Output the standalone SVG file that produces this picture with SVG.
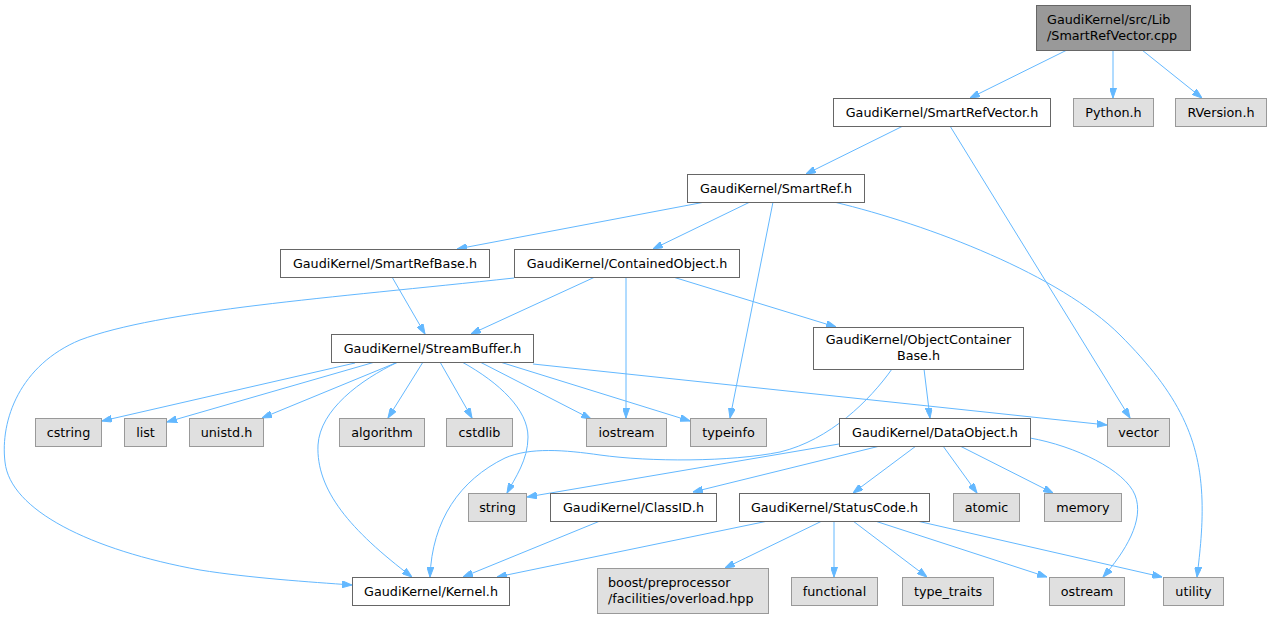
<svg xmlns="http://www.w3.org/2000/svg" width="1272" height="619" viewBox="0 0 1272 619">
<defs>
<marker id="ah" viewBox="0 0 10 7" refX="10" refY="3.5" markerWidth="10" markerHeight="7" markerUnits="userSpaceOnUse" orient="auto">
<path d="M0,0 L10,3.5 L0,7 z" fill="#63b8ff" stroke="#63b8ff" stroke-width="1"/>
</marker>
<style>
.e{fill:none;stroke:#63b8ff;stroke-width:1;marker-end:url(#ah)}
.w{fill:#ffffff;stroke:#666666;stroke-width:1}
.g{fill:#e0e0e0;stroke:#999999;stroke-width:1}
.r{fill:#999999;stroke:#666666;stroke-width:1}
text{font-family:"DejaVu Sans","Liberation Sans",sans-serif;font-size:12.75px;fill:#000000}
.c{text-anchor:middle}
</style>
</defs>
<rect width="1272" height="619" fill="#ffffff"/>
<g id="connectors">
<path class="e" d="M1067,50 L970,98"/>
<path class="e" d="M1113,50 L1113,98"/>
<path class="e" d="M1142,50 L1202,98"/>
<path class="e" d="M903,126 L806,174"/>
<path class="e" d="M950,126 L1130,418"/>
<path class="e" d="M705,202 L457,249"/>
<path class="e" d="M750,202 L653,249"/>
<path class="e" d="M773,202 L730,418"/>
<path class="e" d="M834,202 C930,225 1060,275 1120,335 C1180,395 1200,440 1202,500 C1203,530 1199,560 1197,577"/>
<path class="e" d="M595,277 L471,334"/>
<path class="e" d="M392,277 L425,334"/>
<path class="e" d="M626,277 L626,418"/>
<path class="e" d="M673,277 L836,327"/>
<path class="e" d="M514,278 C330,298 160,310 80,340 C20,365 0,420 5,462 C10,510 90,550 200,570 C250,578 310,582 352,585"/>
<path class="e" d="M355,363 L102,421"/>
<path class="e" d="M375,362 L167,422"/>
<path class="e" d="M398,362 L262,418"/>
<path class="e" d="M423,362 L388,418"/>
<path class="e" d="M440,362 L472,418"/>
<path class="e" d="M480,362 L591,419"/>
<path class="e" d="M500,362 L690,421"/>
<path class="e" d="M533,364 L1107,425"/>
<path class="e" d="M462,362 C500,383 528,410 528,437 C528,460 515,478 507,493"/>
<path class="e" d="M398,362 C360,380 320,410 318,445 C316,490 350,530 412,577"/>
<path class="e" d="M892,369 C870,400 830,440 780,452 C730,462 650,462 600,455 C565,450 530,447 505,458 C460,480 432,520 430,577"/>
<path class="e" d="M924,369 L930,418"/>
<path class="e" d="M839,444 L527,497"/>
<path class="e" d="M880,446 L693,492"/>
<path class="e" d="M916,446 L853,493"/>
<path class="e" d="M943,446 L977,493"/>
<path class="e" d="M960,446 L1053,493"/>
<path class="e" d="M1030,438 C1075,446 1125,470 1135,495 C1145,520 1125,552 1103,577"/>
<path class="e" d="M600,521 L463,577"/>
<path class="e" d="M768,521 L497,577"/>
<path class="e" d="M822,521 L725,568"/>
<path class="e" d="M834,521 L834,577"/>
<path class="e" d="M853,521 L927,577"/>
<path class="e" d="M875,521 L1047,577"/>
<path class="e" d="M917,521 L1162,577"/>
</g>
<g id="n0"><rect class="r" x="1036.5" y="5.5" width="154" height="45"/><text x="1047" y="24">GaudiKernel/src/Lib</text><text x="1047" y="40">/SmartRefVector.cpp</text></g>
<g id="n1"><rect class="w" x="833.5" y="98.5" width="217" height="28"/><text class="c" x="942" y="117">GaudiKernel/SmartRefVector.h</text></g>
<g id="n2"><rect class="g" x="1073.5" y="98.5" width="80" height="28"/><text class="c" x="1113.5" y="117">Python.h</text></g>
<g id="n3"><rect class="g" x="1175.5" y="98.5" width="91" height="28"/><text class="c" x="1221" y="117">RVersion.h</text></g>
<g id="n4"><rect class="w" x="687.5" y="174.5" width="177" height="28"/><text class="c" x="776" y="193">GaudiKernel/SmartRef.h</text></g>
<g id="n5"><rect class="w" x="280.5" y="249.5" width="209" height="28"/><text class="c" x="385" y="268">GaudiKernel/SmartRefBase.h</text></g>
<g id="n6"><rect class="w" x="514.5" y="249.5" width="225" height="28"/><text class="c" x="627" y="268">GaudiKernel/ContainedObject.h</text></g>
<g id="n7"><rect class="w" x="331.5" y="334.5" width="202" height="28"/><text class="c" x="432.5" y="353">GaudiKernel/StreamBuffer.h</text></g>
<g id="n8"><rect class="w" x="813.5" y="327.5" width="210" height="42"/><text class="c" x="918.5" y="344">GaudiKernel/ObjectContainer</text><text class="c" x="918.5" y="360">Base.h</text></g>
<g id="n9"><rect class="g" x="35.5" y="418.5" width="66" height="28"/><text class="c" x="68.5" y="437">cstring</text></g>
<g id="n10"><rect class="g" x="124.5" y="418.5" width="42" height="28"/><text class="c" x="145.5" y="437">list</text></g>
<g id="n11"><rect class="g" x="189.5" y="418.5" width="74" height="28"/><text class="c" x="226.5" y="437">unistd.h</text></g>
<g id="n12"><rect class="g" x="339.5" y="418.5" width="85" height="28"/><text class="c" x="382" y="437">algorithm</text></g>
<g id="n13"><rect class="g" x="446.5" y="418.5" width="66" height="28"/><text class="c" x="479.5" y="437">cstdlib</text></g>
<g id="n14"><rect class="g" x="586.5" y="418.5" width="80" height="28"/><text class="c" x="626.5" y="437">iostream</text></g>
<g id="n15"><rect class="g" x="690.5" y="418.5" width="76" height="28"/><text class="c" x="728.5" y="437">typeinfo</text></g>
<g id="n16"><rect class="w" x="839.5" y="418.5" width="191" height="28"/><text class="c" x="935" y="437">GaudiKernel/DataObject.h</text></g>
<g id="n17"><rect class="g" x="1107.5" y="418.5" width="62" height="28"/><text class="c" x="1138.5" y="437">vector</text></g>
<g id="n18"><rect class="g" x="468.5" y="493.5" width="58" height="28"/><text class="c" x="497.5" y="512">string</text></g>
<g id="n19"><rect class="w" x="550.5" y="493.5" width="166" height="28"/><text class="c" x="633.5" y="512">GaudiKernel/ClassID.h</text></g>
<g id="n20"><rect class="w" x="739.5" y="493.5" width="190" height="28"/><text class="c" x="834.5" y="512">GaudiKernel/StatusCode.h</text></g>
<g id="n21"><rect class="g" x="953.5" y="493.5" width="66" height="28"/><text class="c" x="986.5" y="512">atomic</text></g>
<g id="n22"><rect class="g" x="1044.5" y="493.5" width="77" height="28"/><text class="c" x="1083" y="512">memory</text></g>
<g id="n23"><rect class="w" x="352.5" y="577.5" width="157" height="28"/><text class="c" x="431" y="596">GaudiKernel/Kernel.h</text></g>
<g id="n24"><rect class="g" x="597.5" y="568.5" width="171" height="45"/><text x="608" y="587">boost/preprocessor</text><text x="608" y="603">/facilities/overload.hpp</text></g>
<g id="n25"><rect class="g" x="791.5" y="577.5" width="86" height="28"/><text class="c" x="834.5" y="596">functional</text></g>
<g id="n26"><rect class="g" x="902.5" y="577.5" width="91" height="28"/><text class="c" x="948" y="596">type_traits</text></g>
<g id="n27"><rect class="g" x="1049.5" y="577.5" width="75" height="28"/><text class="c" x="1087" y="596">ostream</text></g>
<g id="n28"><rect class="g" x="1163.5" y="577.5" width="60" height="28"/><text class="c" x="1193.5" y="596">utility</text></g>
</svg>
